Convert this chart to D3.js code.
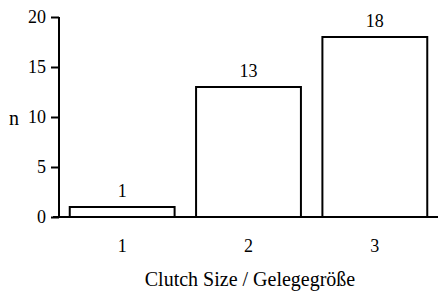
<!DOCTYPE html>
<html>
<head>
<meta charset="utf-8">
<script src="https://cdn.jsdelivr.net/npm/d3@7"></script>
<style>
body { margin: 0; background: #fff; }
text { font-family: "Liberation Serif", "Times New Roman", serif; fill: #000; }
</style>
</head>
<body>
<div id="chart"></div>
<script>
let categories = ["1", "2", "3"];
let counts = [1, 13, 18];
let yTicks = [0, 5, 10, 15, 20];

let margin = {top: 17, right: 0, bottom: 74, left: 59},
    width = 438 - margin.left - margin.right,
    height = 291 - margin.top - margin.bottom;

let svg = d3.select("#chart")
            .append("svg")
            .attr("width", width + margin.left + margin.right)
            .attr("height", height + margin.top + margin.bottom)
            .append("g")
            .attr("transform", "translate(" + margin.left + "," + margin.top + ")");

let x = d3.scaleBand()
          .domain(categories)
          .range([0, width])
          .paddingInner(0.17)
          .paddingOuter(0.085);

let y = d3.scaleLinear()
          .domain([0, 20])
          .range([height, 0]);

// bars
svg.selectAll("rect")
   .data(counts)
   .enter()
   .append("rect")
   .attr("x", function(d, i) { return x(categories[i]) })
   .attr("y", function(d) { return y(d) })
   .attr("width", x.bandwidth())
   .attr("height", function(d) { return height - y(d) })
   .attr("fill", "#fff")
   .attr("stroke", "#000")
   .attr("stroke-width", 2);

// value labels
svg.selectAll(".val")
   .data(counts)
   .enter()
   .append("text")
   .attr("class", "val")
   .attr("text-anchor", "middle")
   .attr("x", function(d, i) { return x(categories[i]) + x.bandwidth() / 2 })
   .attr("y", function(d) { return y(d) - 10 })
   .style("font-size", "18px")
   .text(function(d) { return d });

// y axis
let yAxis = svg.append("g")
               .attr("font-family", "Liberation Serif")
               .call(d3.axisLeft(y).tickValues(yTicks).tickSize(8).tickPadding(5));
yAxis.attr("font-family", "Liberation Serif");
yAxis.select(".domain").attr("stroke-width", 2).attr("d", "M0," + y(20) + "V" + height);
yAxis.selectAll(".tick line").attr("stroke-width", 2);
yAxis.selectAll("text").style("font-size", "18px").style("font-family", "Liberation Serif");

// x axis baseline
svg.append("line")
   .attr("x1", -6)
   .attr("x2", width)
   .attr("y1", height)
   .attr("y2", height)
   .attr("stroke", "#000")
   .attr("stroke-width", 2);

let xAxis = svg.append("g")
               .attr("transform", "translate(0," + height + ")")
               .call(d3.axisBottom(x).tickSize(0).tickPadding(22));
xAxis.attr("font-family", "Liberation Serif");
xAxis.select(".domain").remove();
xAxis.selectAll("text").style("font-size", "18px").style("font-family", "Liberation Serif");

// axis titles
svg.append("text")
   .attr("text-anchor", "middle")
   .attr("x", 191)
   .attr("y", height + 69)
   .style("font-size", "20px")
   .text("Clutch Size / Gelegegröße");

svg.append("text")
   .attr("text-anchor", "middle")
   .attr("x", -45)
   .attr("y", y(10) + 8)
   .style("font-size", "20px")
   .text("n");
</script>
</body>
</html>
